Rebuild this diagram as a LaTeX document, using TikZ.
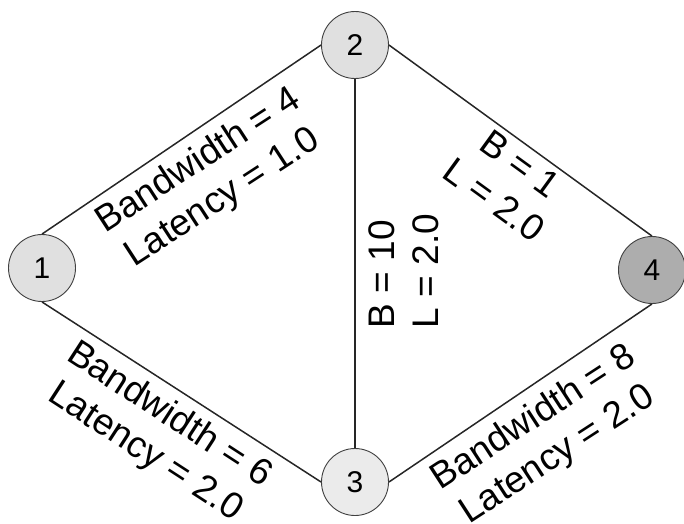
\documentclass[tikz,border=0pt]{standalone}
\usepackage{fontspec}
\setmainfont{Liberation Sans}
\definecolor{nodelight}{gray}{0.88}
\definecolor{nodepale}{gray}{0.92}
\definecolor{nodedark}{gray}{0.68}
\begin{document}
\begin{tikzpicture}[x=1pt,y=-1pt,
  vertex/.style={circle,draw=black!75,line width=0.9pt,minimum size=67pt,inner sep=0pt,font=\fontsize{30}{32}\selectfont},
  edge/.style={line width=1.5pt,black!85},
  lbl/.style={align=center,inner sep=0pt,font=\fontsize{37}{44}\selectfont}]
\useasboundingbox (0,0) rectangle (684,523);
\node[vertex,fill=nodelight] (n1) at (42,268) {1};
\node[vertex,fill=nodelight] (n2) at (355,45) {2};
\node[vertex,fill=nodepale] (n3) at (355,482) {3};
\node[vertex,fill=nodedark] (n4) at (652,270) {4};
\draw[edge] (n1.north) -- (n2.west);
\draw[edge] (n1.south) -- (n3.west);
\draw[edge] (n2.south) -- (n3.north);
\draw[edge] (n2.east) -- (n4.north);
\draw[edge] (n3.east) -- (n4.south);
\node[lbl,rotate=33] (l12) at (211,180) {Bandwidth = 4\\Latency = 1.0};
\node[lbl,rotate=-33] (l13) at (157,434) {Bandwidth = 6\\Latency = 2.0};
\node[lbl,rotate=90,align=left] (l23) at (404,271) {B = 10\\L = 2.0};
\node[lbl,rotate=-36] (l24) at (507,182) {B = 1\\L = 2.0};
\node[lbl,rotate=33] (l34) at (546,437) {Bandwidth = 8\\Latency = 2.0};
\end{tikzpicture}
\end{document}
